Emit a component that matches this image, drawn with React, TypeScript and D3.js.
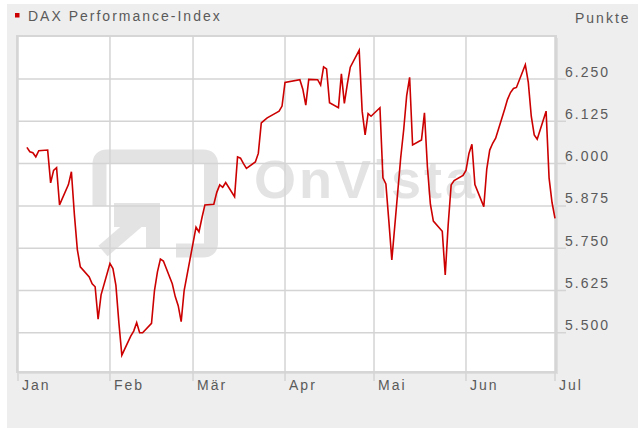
import React, { useRef, useEffect } from 'react';
import * as d3 from 'd3';

// DAX Performance-Index, daily closes Jan - Jul 2010
const janDays = [4, 5, 6, 7, 8, 11, 12, 13, 14, 15, 18, 19, 20, 21, 22, 25, 26, 27, 28, 29];
const janValues = [6048, 6035, 6032, 6020, 6038, 6040, 5943, 5980, 5988, 5878, 5938, 5976, 5850, 5746, 5695, 5665, 5645, 5636, 5540, 5612];

const febDays = [1, 2, 3, 4, 5, 8, 9, 10, 11, 12, 15, 16, 17, 18, 19, 22, 23, 24, 25, 26];
const febValues = [5705, 5690, 5640, 5530, 5434, 5490, 5505, 5530, 5500, 5500, 5528, 5625, 5680, 5718, 5712, 5645, 5607, 5580, 5533, 5625];

const marDays = [1, 2, 3, 4, 5, 8, 9, 10, 11, 12, 15, 16, 17, 18, 19, 22, 23, 24, 25, 26, 29, 30, 31];
const marValues = [5765, 5812, 5798, 5840, 5878, 5880, 5915, 5937, 5930, 5944, 5902, 6020, 6016, 6000, 5986, 6005, 6030, 6120, 6128, 6135, 6150, 6155, 6170];

const aprDays = [1, 6, 7, 8, 9, 12, 13, 14, 15, 16, 19, 20, 21, 22, 23, 26, 27, 28, 29, 30];
const aprValues = [6240, 6248, 6220, 6173, 6249, 6248, 6232, 6286, 6280, 6180, 6165, 6265, 6178, 6235, 6285, 6335, 6155, 6085, 6148, 6140];

const mayDays = [3, 4, 5, 6, 7, 10, 11, 12, 13, 14, 17, 18, 19, 20, 21, 24, 25, 26, 27, 28, 31];
const mayValues = [6165, 5958, 5940, 5830, 5715, 6018, 6100, 6200, 6255, 6055, 6070, 6150, 5990, 5880, 5830, 5800, 5671, 5820, 5937, 5950, 5965];

const junDays = [1, 2, 3, 4, 7, 8, 9, 10, 11, 14, 15, 16, 17, 18, 21, 22, 23, 24, 25, 28, 29, 30];
const junValues = [5980, 6030, 6057, 5938, 5873, 5984, 6040, 6060, 6075, 6160, 6190, 6210, 6222, 6225, 6292, 6240, 6140, 6085, 6072, 6155, 5958, 5885];

const julDays = [1];
const julValues = [5838];

const monthLabels = ['Jan', 'Feb', 'Mär', 'Apr', 'Mai', 'Jun', 'Jul'];
const yTicks = [5500, 5625, 5750, 5875, 6000, 6125, 6250];
const yTickLabels = ['5.500', '5.625', '5.750', '5.875', '6.000', '6.125', '6.250'];

const seriesName = 'DAX Performance-Index';
const unitLabel = 'Punkte';

const months = [
  [janDays, janValues],
  [febDays, febValues],
  [marDays, marValues],
  [aprDays, aprValues],
  [mayDays, mayValues],
  [junDays, junValues],
  [julDays, julValues],
];

const W = 638;
const H = 428;
const FONT = '"Liberation Sans", Arial, sans-serif';

const App = () => {
  const svgRef = useRef(null);

  useEffect(() => {
    const svg = d3.select(svgRef.current);
    svg.selectAll('*').remove();

    const data = [];
    months.forEach(([days, values], m) => {
      days.forEach((d, i) => data.push({ date: new Date(Date.UTC(2010, m, d)), value: values[i] }));
    });

    const plot = { left: 17, top: 36, right: 556, bottom: 372 };

    const x = d3
      .scaleUtc()
      .domain([new Date(Date.UTC(2010, 0, 1)), new Date(Date.UTC(2010, 6, 1))])
      .range([18, 555]);

    const y = d3.scaleLinear().domain([5500, 6250]).range([332.8, 79]);

    // background panel
    svg.append('rect').attr('width', W).attr('height', H).attr('fill', '#ffffff');
    svg.append('rect').attr('x', 7).attr('y', 4).attr('width', W - 7).attr('height', H - 4).attr('fill', '#eeeeee');

    // plot frame + shadow
    svg
      .append('rect')
      .attr('x', plot.left + 2)
      .attr('y', plot.top + 2)
      .attr('width', plot.right - plot.left)
      .attr('height', plot.bottom - plot.top)
      .attr('fill', '#dedede');
    svg
      .append('rect')
      .attr('x', plot.left)
      .attr('y', plot.top)
      .attr('width', plot.right - plot.left)
      .attr('height', plot.bottom - plot.top)
      .attr('fill', '#ffffff')
      .attr('stroke', '#d6d6d6')
      .attr('stroke-width', 2);

    // watermark
    const wmColor = '#e3e3e3';
    const wm = svg.append('g').attr('stroke', wmColor).attr('fill', 'none').attr('stroke-width', 14);
    wm.append('path').attr('d', 'M99.5 206 V164 Q99.5 156.5 107 156.5 H203 Q211 156.5 211 164 V243 Q211 250.5 203 250.5 H176');
    wm.append('path').attr('d', 'M103 251 L146 214');
    svg.append('path').attr('d', 'M114 203 H160 V249 H146 V227 L114 227 Z').attr('fill', wmColor);
    svg
      .append('text')
      .attr('x', 254)
      .attr('y', 198)
      .attr('font-family', FONT)
      .attr('font-weight', 'bold')
      .attr('font-size', 54)
      .attr('letter-spacing', 3)
      .attr('fill', wmColor)
      .text('OnVista');

    // grid
    const grid = svg.append('g').attr('stroke', '#d4d4d4').attr('stroke-width', 1.5);
    yTicks.forEach((t) => {
      grid.append('line').attr('x1', plot.left).attr('x2', 566).attr('y1', y(t)).attr('y2', y(t));
    });
    const monthStarts = monthLabels.map((_, i) => new Date(Date.UTC(2010, i, 1)));
    monthStarts.forEach((d) => {
      grid.append('line').attr('x1', x(d)).attr('x2', x(d)).attr('y1', plot.top).attr('y2', 381);
    });

    // axis labels
    svg
      .append('g')
      .selectAll('text')
      .data(yTicks)
      .enter()
      .append('text')
      .attr('x', 565)
      .attr('y', (t) => y(t) - 2.5)
      .attr('font-family', FONT)
      .attr('font-size', 14)
      .attr('letter-spacing', 2)
      .attr('fill', '#5a5a5a')
      .text((_, i) => yTickLabels[i]);

    svg
      .append('g')
      .selectAll('text')
      .data(monthStarts)
      .enter()
      .append('text')
      .attr('x', (d) => x(d) + 4)
      .attr('y', 390)
      .attr('font-family', FONT)
      .attr('font-size', 14)
      .attr('letter-spacing', 2)
      .attr('fill', '#5a5a5a')
      .text((_, i) => monthLabels[i]);

    // the line
    const line = d3
      .line()
      .x((d) => x(d.date))
      .y((d) => y(d.value));

    svg
      .append('path')
      .datum(data)
      .attr('d', line)
      .attr('fill', 'none')
      .attr('stroke', '#cc0000')
      .attr('stroke-width', 1.6)
      .attr('stroke-linejoin', 'miter');

    // legend + unit
    svg.append('rect').attr('x', 15).attr('y', 13).attr('width', 4.5).attr('height', 4.5).attr('fill', '#cc0000');
    svg
      .append('text')
      .attr('x', 28)
      .attr('y', 21)
      .attr('font-family', FONT)
      .attr('font-size', 14)
      .attr('letter-spacing', 2)
      .attr('fill', '#5a5a5a')
      .text(seriesName);
    svg
      .append('text')
      .attr('x', 575)
      .attr('y', 23)
      .attr('font-family', FONT)
      .attr('font-size', 14)
      .attr('letter-spacing', 2)
      .attr('fill', '#5a5a5a')
      .text(unitLabel);
  }, []);

  return (
    <div style={{ position: 'absolute', left: 0, top: 0 }}>
      <svg ref={svgRef} width={W} height={H} style={{ display: 'block' }}></svg>
    </div>
  );
};

export default App;
